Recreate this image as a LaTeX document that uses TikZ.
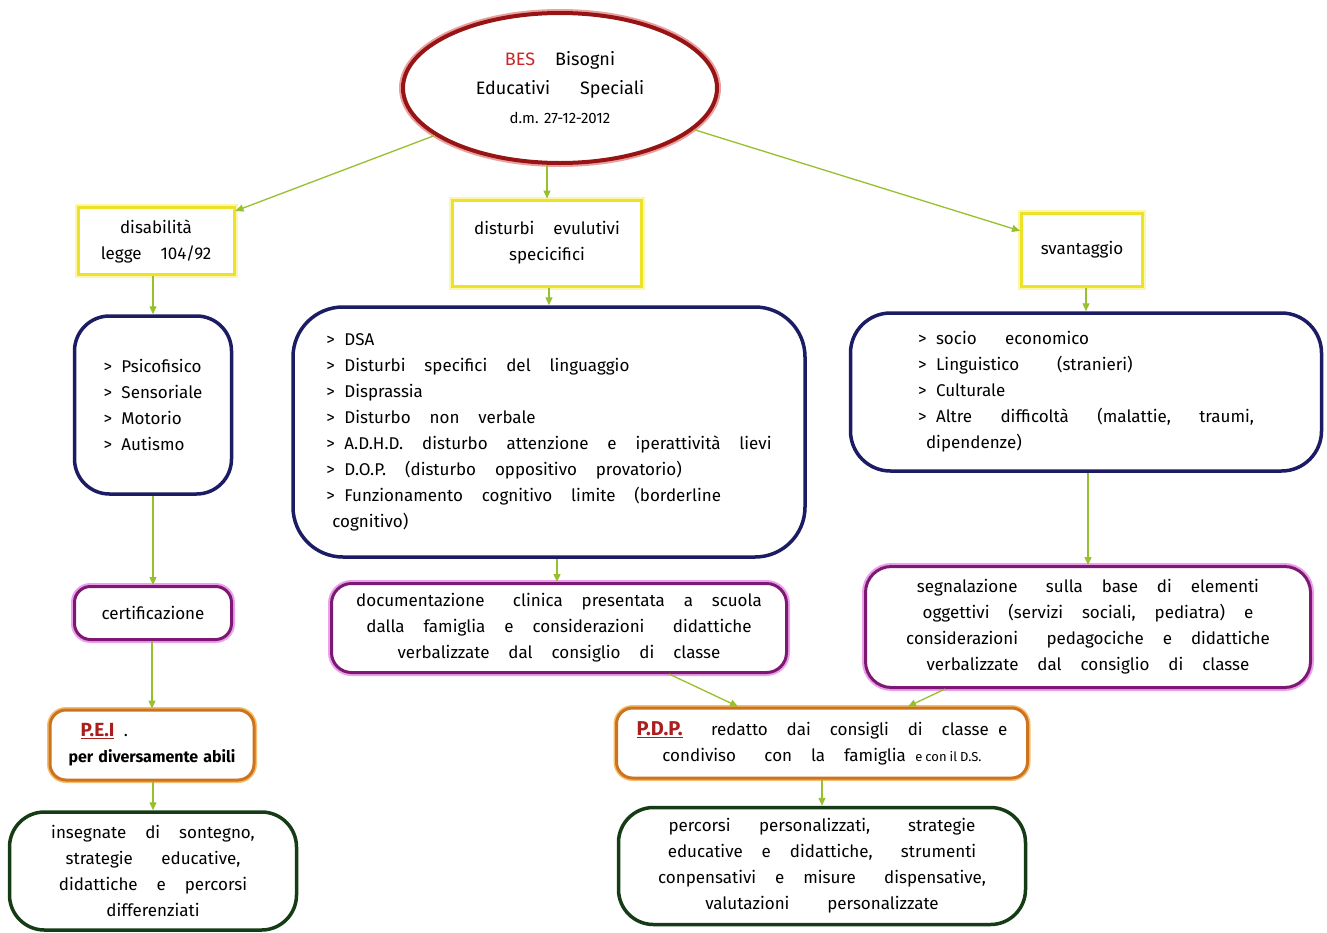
\documentclass[tikz,border=0pt]{standalone}
\usepackage{fontspec}
\setmainfont{Fira Sans}[WordSpace=2.1]
\usetikzlibrary{shapes.geometric,arrows.meta}
\definecolor{arrowgreen}{RGB}{150,192,45}
\definecolor{besred}{RGB}{150,20,20}
\definecolor{besglow}{RGB}{235,160,160}
\definecolor{bestext}{RGB}{200,40,40}
\definecolor{boxyellow}{RGB}{238,226,40}
\definecolor{yellowglow}{RGB}{250,246,170}
\definecolor{navy}{RGB}{28,28,100}
\definecolor{purpleline}{RGB}{125,25,115}
\definecolor{purpleglow}{RGB}{235,160,235}
\definecolor{orangeline}{RGB}{205,115,30}
\definecolor{orangeglow}{RGB}{245,190,110}
\definecolor{darkgreen}{RGB}{22,60,22}
\definecolor{acronym}{RGB}{170,30,30}
\begin{document}
\begin{tikzpicture}[x=1pt,y=-1pt,
  txt/.style={font=\fontsize{17}{26}\selectfont},
  yellowbox/.style={txt,draw=boxyellow,line width=3pt,preaction={draw=yellowglow,line width=7pt},fill=white,align=center,inner sep=0pt},
  bluebox/.style={txt,draw=navy,line width=3.5pt,rounded corners=35pt,fill=white,align=left,inner sep=0pt},
  purplebox/.style={txt,draw=purpleline,line width=3pt,preaction={draw=purpleglow,line width=7pt},rounded corners=20pt,fill=white,align=center,inner sep=0pt},
  orangebox/.style={txt,draw=orangeline,line width=3pt,preaction={draw=orangeglow,line width=6pt},rounded corners=16pt,fill=white,inner sep=0pt},
  greenbox/.style={txt,draw=darkgreen,line width=3.5pt,rounded corners=35pt,fill=white,align=center,inner sep=0pt},
  arr/.style={draw=arrowgreen,line width=1.3pt,-{Triangle[length=8pt,width=7pt]}}]
\useasboundingbox[fill=white] (0,0) rectangle (1327,932);

\node[ellipse,draw=besred,line width=4pt,preaction={draw=besglow,line width=8pt},fill=white,
  minimum width=314pt,minimum height=150pt,inner sep=0pt,align=center,font=\fontsize{18}{29}\selectfont] (bes) at (560,88)
  {\textcolor{bestext}{BES}\ \ Bisogni\\ Educativi\ \ \ Speciali\\ {\fontsize{15}{24}\selectfont\spaceskip=4pt d.m. 27-12-2012}};

\node[yellowbox,minimum width=156pt,minimum height=67pt] (disab) at (156,241) {disabilità\\ legge\ \ 104/92};
\node[yellowbox,minimum width=189pt,minimum height=86pt] (dse) at (547,243) {disturbi\ \ evulutivi\\ specicifici};
\node[yellowbox,minimum width=121pt,minimum height=73pt] (svant) at (1082,250) {svantaggio};

\node[bluebox,minimum width=157pt,minimum height=178pt] (lblue) at (153,405)
  {> Psicofisico\\ > Sensoriale\\ > Motorio\\ > Autismo};
\node[bluebox,minimum width=512pt,minimum height=250pt,rounded corners=50pt] (mblue) at (549,432)
  {> DSA\\ > Disturbi\ \ specifici\ \ del\ \ linguaggio\\ > Disprassia\\ > Disturbo\ \ non\ \ verbale\\
   > A.D.H.D.\ \ disturbo\ \ attenzione\ \ e\ \ iperattività\ \ lievi\\ > D.O.P.\ \ (disturbo\ \ oppositivo\ \ provatorio)\\
   > Funzionamento\ \ cognitivo\ \ limite\ \ (borderline\\ \hspace*{6pt}cognitivo)};
\node[bluebox,minimum width=471pt,minimum height=158pt,rounded corners=40pt] (rblue) at (1086,392)
  {> socio\ \ \ economico\\ > Linguistico\ \ \ \ (stranieri)\\ > Culturale\\ > Altre\ \ \ difficoltà\ \ \ (malattie,\ \ \ traumi,\\ \hspace*{8pt}dipendenze)};

\node[purplebox,minimum width=157pt,minimum height=53pt,rounded corners=16pt] (cert) at (153,613) {certificazione};
\node[purplebox,minimum width=455pt,minimum height=89pt] (mdoc) at (559,628)
  {documentazione\ \ \ clinica\ \ presentata\ \ a\ \ scuola\\ dalla\ \ famiglia\ \ e\ \ considerazioni\ \ \ didattiche\\ verbalizzate\ \ dal\ \ consiglio\ \ di\ \ classe};
\node[purplebox,minimum width=445pt,minimum height=121pt,rounded corners=26pt] (rdoc) at (1088,627)
  {segnalazione\ \ \ sulla\ \ base\ \ di\ \ elementi\\ oggettivi\ \ (servizi\ \ sociali,\ \ pediatra)\ \ e\\
   considerazioni\ \ \ pedagociche\ \ e\ \ didattiche\\ verbalizzate\ \ dal\ \ consiglio\ \ di\ \ classe};

\node[orangebox,minimum width=204pt,minimum height=70pt,align=left] (pei) at (152,745)
  {\hspace*{12pt}{\bfseries\fontsize{19}{26}\selectfont\color{acronym}\underline{P.E.I}}\ .\\ {\bfseries\fontsize{16}{24}\selectfont\spaceskip=5pt per diversamente abili}};
\node[orangebox,minimum width=411pt,minimum height=70pt,align=center] (pdp) at (822,743)
  {{\bfseries\fontsize{20}{26}\selectfont\color{acronym}\underline{P.D.P.}}\ \ \ redatto\ \ dai\ \ consigli\ \ di\ \ classe\ e\\
   condiviso\ \ \ con\ \ la\ \ famiglia {\fontsize{13}{26}\selectfont\spaceskip=3pt e con il D.S.}};

\node[greenbox,minimum width=287pt,minimum height=118pt] (gleft) at (153,871)
  {insegnate\ \ di\ \ sontegno,\\ strategie\ \ \ educative,\\ didattiche\ \ e\ \ percorsi\\ differenziati};
\node[greenbox,minimum width=407pt,minimum height=117pt] (gright) at (822,866)
  {percorsi\ \ \ personalizzati,\ \ \ \ strategie\\ educative\ \ e\ \ didattiche,\ \ \ strumenti\\
   conpensativi\ \ e\ \ misure\ \ \ dispensative,\\ valutazioni\ \ \ \ personalizzate};

\draw[arr] (bes) -- (disab);
\draw[arr] (bes.south -| dse.north) -- (dse.north);
\draw[arr] (bes) -- (svant);
\draw[arr] (disab.south -| lblue.north) -- (lblue.north);
\draw[arr] (dse.south -| mblue.north) -- (mblue.north);
\draw[arr] (svant.south -| rblue.north) -- (rblue.north);
\draw[arr] (lblue.south -| cert.north) -- (cert.north);
\draw[arr] ([xshift=-2pt]mblue.south -| mdoc.north) -- ([xshift=-2pt]mdoc.north);
\draw[arr] (rblue.south -| rdoc.north) -- (rdoc.north);
\draw[arr] (cert.south -| pei.north) -- (pei.north);
\draw[arr] ([xshift=110pt]mdoc.south) -- ([xshift=-84pt]pdp.north);
\draw[arr] ([xshift=-143pt]rdoc.south) -- ([xshift=86pt]pdp.north);
\draw[arr] (pei.south -| gleft.north) -- (gleft.north);
\draw[arr] (pdp.south) -- (gright.north);
\end{tikzpicture}
\end{document}
